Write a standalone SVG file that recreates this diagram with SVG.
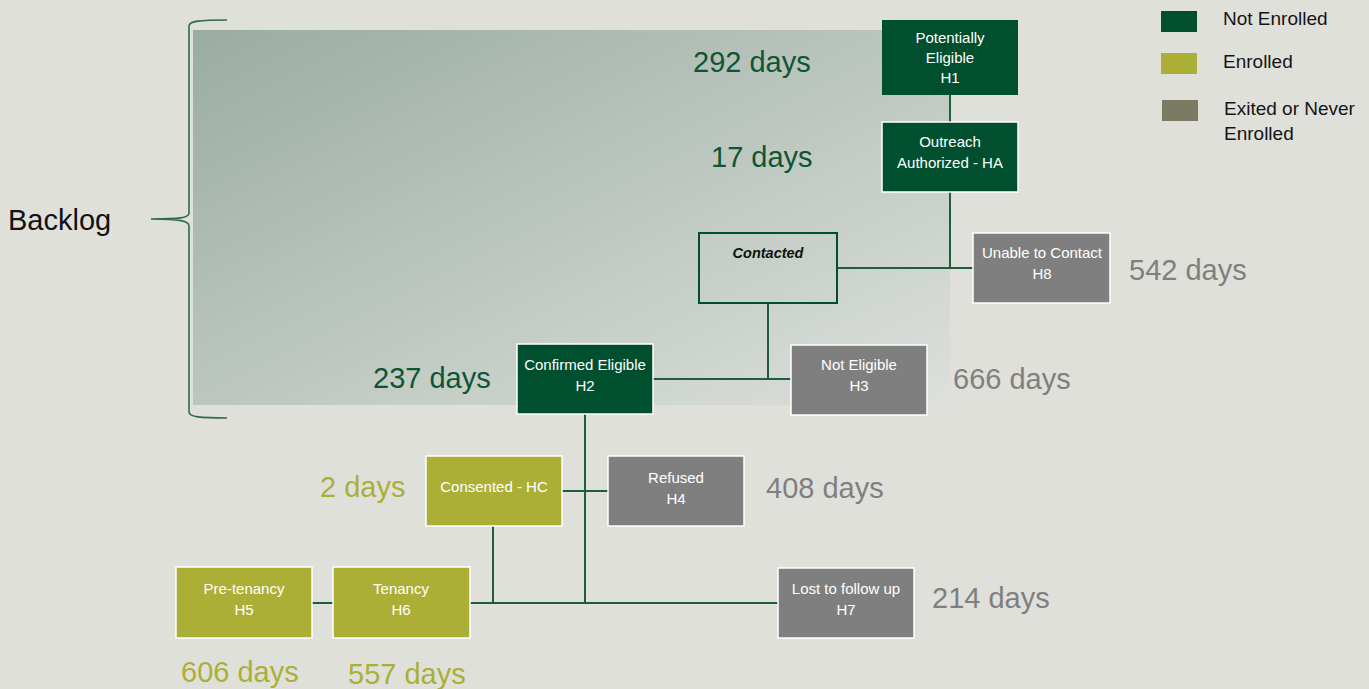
<svg xmlns="http://www.w3.org/2000/svg" width="1369" height="689" viewBox="0 0 1369 689">
<defs>
<linearGradient id="bg" x1="0" y1="0" x2="1" y2="1">
<stop offset="0" stop-color="#9AACA1"/>
<stop offset="1" stop-color="#DDE0DC"/>
</linearGradient>
</defs>
<style>
text{font-family:"Liberation Sans",Arial,sans-serif}
.nt{fill:#FFFFFF;font-size:15px;text-anchor:middle}
.ne rect{fill:#00502F}
.en rect{fill:#ABAF36}
.ex rect{fill:#7F7F7F}
.node rect{stroke:#FFFFFF;stroke-width:1.5}
.big{font-size:29px}
.g{fill:#0E5535}
.o{fill:#ABAF36}
.gr{fill:#7F7F7F}
.lg{font-size:19px;fill:#141414}
.conn line,.conn polyline{stroke:#1E5E3E;stroke-width:2;fill:none}
</style>
<rect x="0" y="0" width="1369" height="689" fill="#E0E0DB"/>
<rect id="backlog-area" x="193" y="30" width="757" height="375" fill="url(#bg)"/>
<g id="backlog">
<path d="M227,20 C200,20 189,21 189,26 L189,213 C189,218 180,219 151,219 C180,219 189,221 189,226 L189,412 C189,417 200,418 227,418" fill="none" stroke="#2E6B4E" stroke-width="1.6"/>
<text x="8" y="230" font-size="29" fill="#111">Backlog</text>
</g>
<g class="conn" id="connectors">
<line x1="950" y1="95" x2="950" y2="122"/>
<polyline points="950,192 950,268"/>
<line x1="837" y1="268" x2="973" y2="268"/>
<line x1="768" y1="303" x2="768" y2="379"/>
<line x1="653" y1="379" x2="791" y2="379"/>
<line x1="585" y1="414" x2="585" y2="603"/>
<line x1="562" y1="491" x2="608" y2="491"/>
<line x1="493" y1="526" x2="493" y2="603"/>
<line x1="470" y1="603" x2="778" y2="603"/>
<line x1="312" y1="603" x2="333" y2="603"/>
</g>
<g id="H1" class="ne"><rect x="882" y="20" width="136" height="75"/>
<text class="nt" x="950" y="43">Potentially</text><text class="nt" x="950" y="63">Eligible</text><text class="nt" x="950" y="83">H1</text></g>
<g id="HA" class="node ne"><rect x="882" y="122" width="136" height="70"/>
<text class="nt" x="950" y="147">Outreach</text><text class="nt" x="950" y="168">Authorized - HA</text></g>
<g id="contacted"><rect x="699" y="233" width="138" height="70" fill="none" stroke="#00502F" stroke-width="2"/>
<text x="768" y="258" font-size="14.5" font-weight="bold" font-style="italic" text-anchor="middle" fill="#111">Contacted</text></g>
<g id="H8" class="node ex"><rect x="973" y="233" width="137" height="70"/>
<text class="nt" x="1042" y="258">Unable to Contact</text><text class="nt" x="1042" y="279">H8</text></g>
<g id="H2" class="node ne"><rect x="517" y="344" width="136" height="70"/>
<text class="nt" x="585" y="370">Confirmed Eligible</text><text class="nt" x="585" y="391">H2</text></g>
<g id="H3" class="node ex"><rect x="791" y="345" width="136" height="70"/>
<text class="nt" x="859" y="370">Not Eligible</text><text class="nt" x="859" y="391">H3</text></g>
<g id="HC" class="node en"><rect x="426" y="456" width="136" height="70"/>
<text class="nt" x="494" y="492">Consented - HC</text></g>
<g id="H4" class="node ex"><rect x="608" y="456" width="136" height="70"/>
<text class="nt" x="676" y="483">Refused</text><text class="nt" x="676" y="504">H4</text></g>
<g id="H5" class="node en"><rect x="176" y="567" width="136" height="71"/>
<text class="nt" x="244" y="594">Pre-tenancy</text><text class="nt" x="244" y="615">H5</text></g>
<g id="H6" class="node en"><rect x="333" y="567" width="137" height="71"/>
<text class="nt" x="401" y="594">Tenancy</text><text class="nt" x="401" y="615">H6</text></g>
<g id="H7" class="node ex"><rect x="778" y="568" width="136" height="70"/>
<text class="nt" x="846" y="594">Lost to follow up</text><text class="nt" x="846" y="615">H7</text></g>
<g id="durations">
<text class="big g" x="693" y="72">292 days</text>
<text class="big g" x="711" y="167">17 days</text>
<text class="big gr" x="1129" y="280">542 days</text>
<text class="big g" x="373" y="388">237 days</text>
<text class="big gr" x="953" y="389">666 days</text>
<text class="big o" x="320" y="497">2 days</text>
<text class="big gr" x="766" y="498">408 days</text>
<text class="big gr" x="932" y="608">214 days</text>
<text class="big o" x="181" y="682">606 days</text>
<text class="big o" x="348" y="684">557 days</text>
</g>
<g id="legend">
<rect x="1161" y="11" width="36" height="21" fill="#00502F"/>
<text class="lg" x="1223" y="25">Not Enrolled</text>
<rect x="1161" y="53" width="36" height="21" fill="#ABAF36"/>
<text class="lg" x="1223" y="68">Enrolled</text>
<rect x="1162" y="100" width="36" height="21" fill="#7B7B63"/>
<text class="lg" x="1224" y="115">Exited or Never</text>
<text class="lg" x="1224" y="140">Enrolled</text>
</g>
</svg>
